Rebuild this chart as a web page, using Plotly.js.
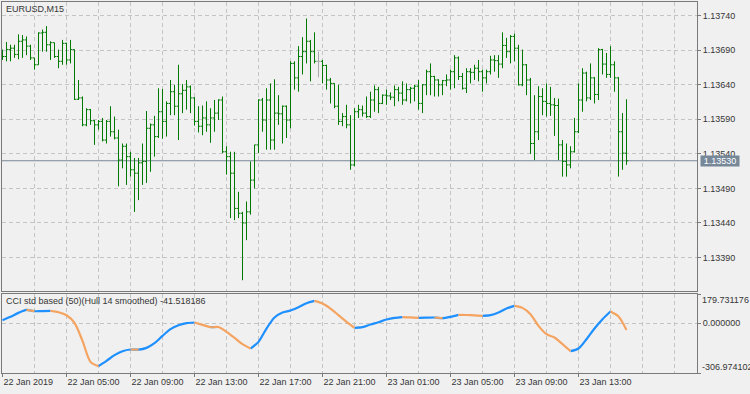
<!DOCTYPE html>
<html>
<head>
<meta charset="utf-8">
<script src="https://cdn.plot.ly/plotly-3.0.1.min.js"></script>
<style>
html,body{margin:0;padding:0;background:#f0f0f0;}
#chart{width:750px;height:394px;}
</style>
</head>
<body>
<div id="chart"></div>
<script>
// ---------------- data ----------------
const symbolTitle = 'EURUSD,M15';
const indicatorTitle = 'CCI std based (50)(Hull 14 smoothed) -41.518186';
const firstBarTime = '2019-01-22T01:00:00Z';
const barMinutes = 15;

const open = [1.13683,1.13681,1.13691,1.13693,1.13684,1.13703,1.13705,1.13696,1.13679,1.13669,
1.13715,1.13716,1.13698,1.13701,1.13681,1.13674,1.13700,1.13676,1.13691,1.13619,
1.13621,1.13582,1.13604,1.13588,1.13582,1.13587,1.13560,1.13587,1.13572,1.13563,
1.13531,1.13551,1.13536,1.13517,1.13512,1.13527,1.13529,1.13577,1.13582,1.13565,
1.13601,1.13587,1.13613,1.13630,1.13609,1.13627,1.13632,1.13637,1.13621,1.13587,
1.13580,1.13592,1.13582,1.13592,1.13599,1.13618,1.13543,1.13536,1.13512,1.13461,
1.13454,1.13440,1.13456,1.13502,1.13553,1.13618,1.13589,1.13618,1.13560,1.13599,
1.13598,1.13609,1.13589,1.13671,1.13650,1.13681,1.13688,1.13703,1.13688,1.13674,
1.13674,1.13668,1.13647,1.13642,1.13609,1.13587,1.13594,1.13582,1.13524,1.13601,
1.13604,1.13599,1.13594,1.13618,1.13633,1.13613,1.13625,1.13624,1.13622,1.13633,
1.13628,1.13618,1.13633,1.13635,1.13638,1.13613,1.13640,1.13659,1.13652,1.13647,
1.13640,1.13646,1.13647,1.13659,1.13679,1.13652,1.13635,1.13659,1.13658,1.13664,
1.13659,1.13650,1.13659,1.13676,1.13675,1.13670,1.13697,1.13688,1.13710,1.13693,
1.13640,1.13669,1.13647,1.13555,1.13572,1.13623,1.13616,1.13613,1.13611,1.13610,
1.13553,1.13529,1.13524,1.13543,1.13572,1.13618,1.13657,1.13621,1.13650,1.13626,
1.13691,1.13670,1.13655,1.13669,1.13650,1.13572,1.13541];

const high = [1.13691,1.13702,1.13698,1.13698,1.13713,1.13712,1.13710,1.13698,1.13679,1.13716,
1.13720,1.13725,1.13703,1.13701,1.13691,1.13705,1.13701,1.13705,1.13691,1.13647,
1.13623,1.13606,1.13605,1.13589,1.13589,1.13592,1.13589,1.13609,1.13594,1.13575,
1.13555,1.13555,1.13543,1.13534,1.13534,1.13555,1.13602,1.13584,1.13595,1.13635,
1.13634,1.13616,1.13647,1.13640,1.13669,1.13641,1.13647,1.13639,1.13622,1.13609,
1.13610,1.13616,1.13606,1.13618,1.13619,1.13623,1.13551,1.13543,1.13543,1.13485,
1.13456,1.13471,1.13529,1.13553,1.13619,1.13621,1.13635,1.13642,1.13648,1.13625,
1.13610,1.13610,1.13674,1.13674,1.13696,1.13709,1.13736,1.13705,1.13716,1.13688,
1.13676,1.13669,1.13650,1.13642,1.13640,1.13599,1.13611,1.13596,1.13606,1.13611,
1.13610,1.13623,1.13630,1.13639,1.13637,1.13626,1.13633,1.13629,1.13639,1.13637,
1.13645,1.13642,1.13637,1.13640,1.13647,1.13641,1.13662,1.13671,1.13653,1.13648,
1.13647,1.13655,1.13662,1.13683,1.13681,1.13657,1.13664,1.13664,1.13669,1.13676,
1.13662,1.13662,1.13682,1.13683,1.13683,1.13716,1.13708,1.13712,1.13714,1.13698,
1.13691,1.13670,1.13650,1.13625,1.13638,1.13635,1.13642,1.13637,1.13621,1.13620,
1.13560,1.13555,1.13551,1.13592,1.13642,1.13664,1.13659,1.13671,1.13651,1.13693,
1.13692,1.13686,1.13696,1.13674,1.13651,1.13599,1.13619];

const low = [1.13676,1.13674,1.13674,1.13679,1.13677,1.13679,1.13683,1.13676,1.13662,1.13669,
1.13688,1.13688,1.13676,1.13679,1.13664,1.13669,1.13669,1.13671,1.13618,1.13618,
1.13580,1.13580,1.13582,1.13553,1.13575,1.13558,1.13555,1.13565,1.13561,1.13493,
1.13519,1.13495,1.13507,1.13456,1.13473,1.13495,1.13498,1.13514,1.13536,1.13563,
1.13562,1.13565,1.13596,1.13596,1.13560,1.13599,1.13604,1.13599,1.13581,1.13571,
1.13567,1.13572,1.13556,1.13572,1.13589,1.13541,1.13510,1.13447,1.13444,1.13447,
1.13357,1.13415,1.13452,1.13490,1.13541,1.13572,1.13546,1.13546,1.13546,1.13582,
1.13555,1.13563,1.13577,1.13633,1.13630,1.13655,1.13671,1.13645,1.13671,1.13651,
1.13642,1.13633,1.13613,1.13606,1.13582,1.13580,1.13577,1.13517,1.13522,1.13592,
1.13594,1.13592,1.13592,1.13601,1.13599,1.13612,1.13611,1.13618,1.13609,1.13616,
1.13611,1.13616,1.13613,1.13616,1.13604,1.13599,1.13625,1.13625,1.13623,1.13623,
1.13625,1.13638,1.13633,1.13635,1.13647,1.13633,1.13628,1.13642,1.13647,1.13645,
1.13630,1.13642,1.13655,1.13659,1.13650,1.13664,1.13679,1.13671,1.13674,1.13639,
1.13638,1.13625,1.13540,1.13531,1.13560,1.13596,1.13594,1.13595,1.13566,1.13531,
1.13507,1.13507,1.13519,1.13542,1.13570,1.13601,1.13616,1.13618,1.13613,1.13618,
1.13655,1.13650,1.13650,1.13630,1.13507,1.13517,1.13524];

const close = [1.13681,1.13691,1.13693,1.13684,1.13703,1.13705,1.13696,1.13679,1.13669,1.13715,
1.13716,1.13698,1.13701,1.13681,1.13674,1.13700,1.13676,1.13691,1.13619,1.13621,
1.13582,1.13604,1.13588,1.13582,1.13587,1.13560,1.13587,1.13572,1.13563,1.13531,
1.13551,1.13536,1.13517,1.13512,1.13527,1.13529,1.13577,1.13582,1.13565,1.13601,
1.13587,1.13613,1.13630,1.13609,1.13627,1.13632,1.13637,1.13621,1.13587,1.13580,
1.13592,1.13582,1.13592,1.13599,1.13618,1.13543,1.13536,1.13512,1.13461,1.13454,
1.13440,1.13456,1.13502,1.13553,1.13618,1.13589,1.13618,1.13560,1.13599,1.13598,
1.13609,1.13589,1.13671,1.13650,1.13681,1.13688,1.13703,1.13688,1.13674,1.13674,
1.13668,1.13647,1.13642,1.13609,1.13587,1.13594,1.13582,1.13524,1.13601,1.13604,
1.13599,1.13594,1.13618,1.13633,1.13613,1.13625,1.13624,1.13622,1.13633,1.13628,
1.13618,1.13633,1.13635,1.13638,1.13613,1.13640,1.13659,1.13652,1.13647,1.13640,
1.13646,1.13647,1.13659,1.13679,1.13652,1.13635,1.13659,1.13658,1.13664,1.13659,
1.13650,1.13659,1.13676,1.13675,1.13670,1.13697,1.13688,1.13710,1.13693,1.13640,
1.13669,1.13647,1.13555,1.13572,1.13623,1.13616,1.13613,1.13611,1.13610,1.13553,
1.13529,1.13524,1.13543,1.13572,1.13618,1.13657,1.13621,1.13650,1.13626,1.13691,
1.13670,1.13655,1.13669,1.13650,1.13572,1.13541,1.13530];

// indicator value read at every second bar (bars 0,2,4,...,156)
const indicatorEvery2 = [18.3,38.9,63.5,82.0,73.8,74.8,75.8,67.6,49.1,2.0,
-108.9,-238.3,-265.0,-232.1,-197.2,-172.6,-162.3,-163.3,-152.1,-123.3,
-78.2,-37.1,-12.5,-0.1,4.0,-10.4,-24.8,-23.7,-53.5,-90.5,
-129.5,-156.2,-115.1,-33.0,34.8,65.6,77.9,98.4,123.0,137.4,
121.0,90.2,49.1,8.1,-28.9,-24.8,-8.3,6.0,22.4,32.7,
37.8,35.8,32.7,33.7,34.8,30.7,38.9,51.2,50.2,48.1,
45.0,49.1,65.6,90.2,106.6,94.3,55.3,-16.6,-67.9,-88.4,
-129.5,-172.6,-156.2,-98.7,-33.0,24.5,71.7,40.9,-41.518186];

const priceTicks = [1.13390,1.13440,1.13490,1.13540,1.13590,1.13640,1.13690,1.13740];
const timeTickLabels = ['22 Jan 2019','22 Jan 05:00','22 Jan 09:00','22 Jan 13:00','22 Jan 17:00',
  '22 Jan 21:00','23 Jan 01:00','23 Jan 05:00','23 Jan 09:00','23 Jan 13:00'];
const timeTickBars = [0,16,32,48,64,80,96,112,128,144];
const lastPrice = 1.13530;
const indMax = 179.731176, indMin = -306.974102;

// ---------------- helpers ----------------
const baseMs = Date.parse(firstBarTime);
function barTime(i){
  return new Date(baseMs + Math.round(i*barMinutes*60000)).toISOString().slice(0,23).replace('T',' ');
}
const xs = open.map((_,i)=>barTime(i));
const xStart = barTime(-0.125), xEnd = barTime(173.625);

const GREEN = '#007a00', GRID = '#c4c4c4', LINE = '#7a7a7a', TXT = '#363636';
const FONT = '"Liberation Sans", Arial, sans-serif';

// bars: normal vs doji (open == close drawn grey)
const isDoji = open.map((o,i)=>o===close[i]);
function pick(arr, want){ return arr.map((v,i)=> isDoji[i]===want ? v : null); }

const barTrace = {
  type:'ohlc', x:xs, open:pick(open,false), high:pick(high,false), low:pick(low,false), close:pick(close,false),
  xaxis:'x', yaxis:'y', tickwidth:0.45, hoverinfo:'skip', showlegend:false,
  increasing:{line:{color:GREEN, width:1}}, decreasing:{line:{color:GREEN, width:1}}
};
const dojiTrace = {
  type:'ohlc', x:xs, open:pick(open,true), high:pick(high,true), low:pick(low,true), close:pick(close,true),
  xaxis:'x', yaxis:'y', tickwidth:0.45, hoverinfo:'skip', showlegend:false,
  increasing:{line:{color:'#a8a8a8', width:1}}, decreasing:{line:{color:'#a8a8a8', width:1}}
};

// indicator: blue when rising, orange when falling
const indX = indicatorEvery2.map((_,k)=>barTime(2*k));
const n = indicatorEvery2.length;
const blueY = [], orangeY = [];
for(let k=0;k<n;k++){
  const v = indicatorEvery2[k];
  const prevUp = k>0 ? v > indicatorEvery2[k-1] : null;
  const nextUp = k<n-1 ? indicatorEvery2[k+1] > v : null;
  blueY.push(prevUp===true || nextUp===true ? v : null);
  orangeY.push(prevUp===false || nextUp===false ? v : null);
}
const blueTrace = {type:'scatter', mode:'lines', x:indX, y:blueY, xaxis:'x2', yaxis:'y2',
  line:{color:'#1e90ff', width:2.2, shape:'spline', smoothing:0.8}, connectgaps:false, hoverinfo:'skip', showlegend:false};
const orangeTrace = {type:'scatter', mode:'lines', x:indX, y:orangeY, xaxis:'x2', yaxis:'y2',
  line:{color:'#f4a460', width:2.2, shape:'spline', smoothing:0.8}, connectgaps:false, hoverinfo:'skip', showlegend:false};

const mainBottom = (373-291)/371, indTop = (373-294)/371;

const layout = {
  width:750, height:394,
  margin:{l:2, r:53, t:2, b:21, pad:0},
  paper_bgcolor:'#f0f0f0', plot_bgcolor:'#f0f0f0',
  showlegend:false,
  font:{family:FONT, size:9, color:TXT},
  xaxis:{type:'date', anchor:'y', domain:[0,1], range:[xStart,xEnd],
    tickmode:'linear', tick0:barTime(0), dtick:7200000, showticklabels:false, ticks:'',
    showgrid:true, gridcolor:GRID, griddash:'4px,3px', gridwidth:1,
    showline:true, mirror:true, linecolor:LINE, linewidth:1, zeroline:false,
    rangeslider:{visible:false}, fixedrange:true},
  xaxis2:{type:'date', anchor:'y2', domain:[0,1], range:[xStart,xEnd],
    tickmode:'array', tickvals:timeTickBars.map(barTime), ticktext:timeTickLabels,
    ticks:'outside', ticklen:3, tickcolor:LINE, ticklabelposition:'outside right',
    tickfont:{family:FONT, size:9, color:TXT},
    showgrid:true, gridcolor:GRID, griddash:'4px,3px', gridwidth:1,
    minor:{tickmode:'linear', tick0:barTime(0), dtick:7200000, showgrid:true, gridcolor:GRID, griddash:'4px,3px', ticks:''},
    showline:true, mirror:true, linecolor:LINE, linewidth:1, zeroline:false,
    rangeslider:{visible:false}, fixedrange:true},
  yaxis:{domain:[mainBottom,1], anchor:'x', side:'right', range:[1.133414,1.137599],
    tickmode:'array', tickvals:priceTicks, ticktext:priceTicks.map(v=>v.toFixed(5)),
    ticks:'outside', ticklen:3, tickcolor:LINE, tickfont:{family:FONT, size:9, color:TXT},
    showgrid:true, gridcolor:GRID, griddash:'4px,3px', gridwidth:1,
    showline:true, mirror:true, linecolor:LINE, linewidth:1, zeroline:false, fixedrange:true},
  yaxis2:{domain:[0,indTop], anchor:'x2', side:'right', range:[indMin,indMax],
    tickmode:'array', tickvals:[indMax,0,indMin], ticktext:['','0.000000',''],
    ticks:'outside', ticklen:3, tickcolor:LINE, tickfont:{family:FONT, size:9, color:TXT},
    showgrid:true, gridcolor:GRID, griddash:'4px,3px', gridwidth:1,
    showline:true, mirror:true, linecolor:LINE, linewidth:1, zeroline:false, fixedrange:true},
  shapes:[
    {type:'line', xref:'paper', x0:0, x1:1, yref:'y', y0:lastPrice, y1:lastPrice,
     line:{color:'#778899', width:1}, layer:'below'}
  ],
  annotations:[
    {xref:'paper', x:0, xanchor:'left', xshift:3, yref:'paper', y:1, yanchor:'top', yshift:-1,
     text:symbolTitle, showarrow:false, borderpad:0, font:{family:FONT, size:9, color:TXT}},
    {xref:'paper', x:0, xanchor:'left', xshift:3, yref:'paper', y:indTop, yanchor:'top', yshift:-1,
     text:indicatorTitle, showarrow:false, borderpad:0, font:{family:FONT, size:9, color:TXT}},
    {xref:'paper', x:1, xanchor:'left', xshift:3, yref:'y', y:lastPrice, yanchor:'middle',
     text:lastPrice.toFixed(5), showarrow:false, bgcolor:'#778899', borderpad:1, width:36, height:8,
     font:{family:FONT, size:9, color:'#ffffff'}},
    {xref:'paper', x:1, xanchor:'left', xshift:4, yref:'y2', y:indMax, yanchor:'top',
     text:indMax.toFixed(6), showarrow:false, borderpad:0, font:{family:FONT, size:9, color:TXT}},
    {xref:'paper', x:1, xanchor:'left', xshift:4, yref:'y2', y:indMin, yanchor:'bottom',
     text:indMin.toFixed(6), showarrow:false, borderpad:0, font:{family:FONT, size:9, color:TXT}}
  ]
};

Plotly.newPlot('chart', [barTrace, dojiTrace, blueTrace, orangeTrace], layout, {staticPlot:true, displayModeBar:false});
</script>
</body>
</html>
